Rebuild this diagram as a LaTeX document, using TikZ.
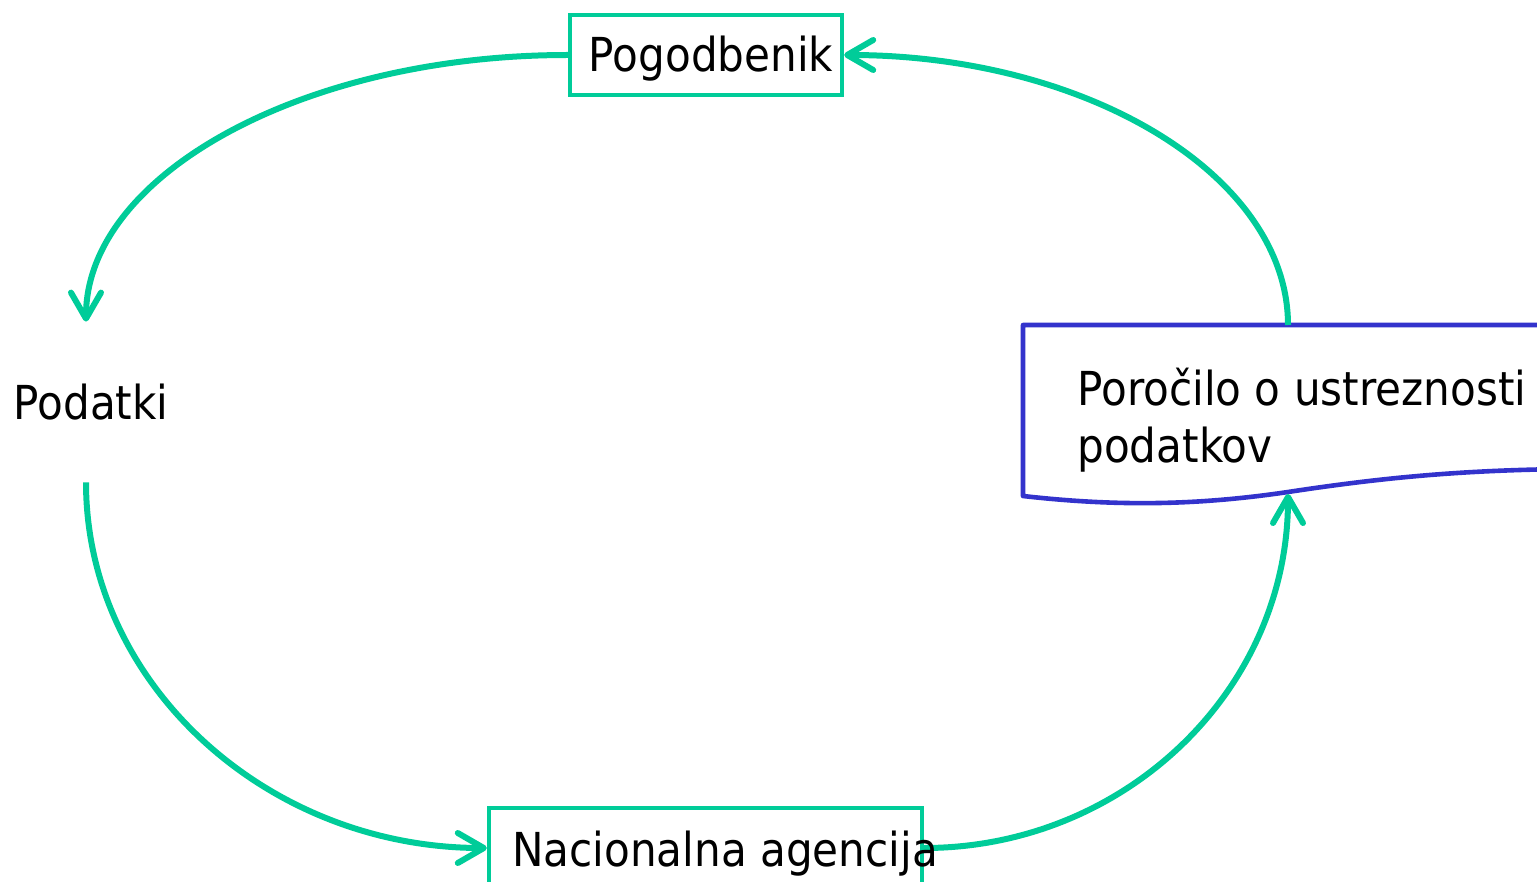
\documentclass[tikz,border=0pt]{standalone}
\usepackage{fontspec}
\setmainfont{DejaVu Sans}[FakeStretch=0.9]
\usetikzlibrary{arrows.meta}
\definecolor{grn}{RGB}{0,204,153}
\definecolor{blu}{RGB}{51,51,204}
\tikzset{
  lbl/.style={font=\fontsize{23.4}{28.5}\selectfont, text height=17pt, text depth=0pt, inner sep=0pt},
  doclbl/.style={font=\fontsize{23.4}{28.5}\selectfont, inner sep=0pt, align=left},
  gbox/.style={draw=grn, line width=2.2pt, inner sep=0pt, minimum height=40pt},
  flow/.style={draw=grn, line width=3pt, -{Straight Barb[length=13pt,width=15pt,round]}},
  docshape/.style={draw=blu, line width=2.3pt, line join=round}
}
\begin{document}
\begin{tikzpicture}[x=0.5pt,y=-0.5pt]
\useasboundingbox (0,0) rectangle (1537,882);
\node[gbox, minimum width=136pt] (pog) at (706,55) {};
\node[lbl] (pogtext) at (711,55) {Pogodbenik};
\node[lbl, minimum height=80pt] (pod) at (91,402) {Podatki};
\node[gbox, minimum width=216.5pt] (nac) at (705.5,848) {};
\draw[docshape] (1570,325) -- (1023,325) -- (1023,496)
  .. controls (1120,507) and (1200,505) .. (1288,492)
  .. controls (1380,478) and (1460,470) .. (1570,469);
\coordinate (doctop) at (1288,325);
\coordinate (docbot) at (1288,494);
\draw[flow] (pog.west) .. controls (303,55) and (86,175) .. ([xshift=-2.5pt]pod.north);
\draw[flow] ([xshift=-2.5pt]pod.south) .. controls (86,684) and (267,848) .. (nac.west);
\draw[flow] (nac.east) .. controls (1124,848) and (1288,691) .. (docbot);
\draw[flow] (doctop) .. controls (1288,176) and (1088,55) .. (pog.east);
\node[lbl] (nactext) at (725,849) {Nacionalna agencija};
\node[doclbl, anchor=base west] (doc) at (1077,462) {Poročilo o ustreznosti\\podatkov};
\end{tikzpicture}
\end{document}
